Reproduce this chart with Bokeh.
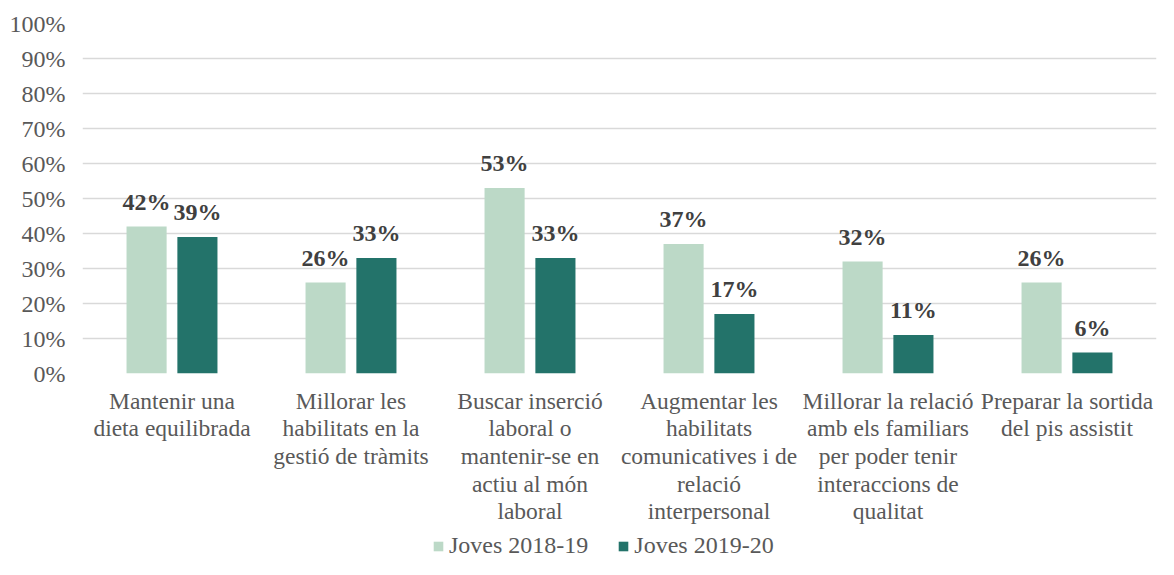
from bokeh.plotting import figure
from bokeh.layouts import column
from bokeh.models import (ColumnDataSource, LabelSet, Range1d, FixedTicker,
                          PrintfTickFormatter, Legend, LegendItem)
from bokeh.embed import file_html
from bokeh.resources import INLINE

# ---- data ----
categories = [
    "Mantenir una\ndieta equilibrada",
    "Millorar les\nhabilitats en la\ngestió de tràmits",
    "Buscar inserció\nlaboral o\nmantenir-se en\nactiu al món\nlaboral",
    "Augmentar les\nhabilitats\ncomunicatives i de\nrelació\ninterpersonal",
    "Millorar la relació\namb els familiars\nper poder tenir\ninteraccions de\nqualitat",
    "Preparar la sortida\ndel pis assistit",
]
series_names = ["Joves 2018-19", "Joves 2019-20"]
joves_2018_19 = [42, 26, 53, 37, 32, 26]
joves_2019_20 = [39, 33, 33, 17, 11, 6]
y_ticks = [0, 10, 20, 30, 40, 50, 60, 70, 80, 90, 100]

# ---- style ----
FONT = "Liberation Serif"
FS = "24px"
FS_CAT = "23.5px"
LIGHT = "#bcd9c7"
DARK = "#23736a"
TICK_COLOR = "#595959"
LABEL_COLOR = "#404040"
GRID = "#d9d9d9"
W = 1158
H_MAIN, H_LEG = 530, 29
BAR_W = 0.224
OFF = 0.142
LEFT = 82

p = figure(width=W, height=H_MAIN, output_backend="svg", toolbar_location=None,
           x_range=Range1d(0, len(categories)), y_range=Range1d(0, 100),
           min_border_left=LEFT, min_border_right=2, min_border_top=23,
           min_border_bottom=157)
p.outline_line_color = None
p.background_fill_color = "white"
p.border_fill_color = "white"
p.xgrid.visible = False
p.ygrid.grid_line_color = GRID
p.ygrid.grid_line_width = 1.5
p.ygrid.ticker = FixedTicker(ticks=y_ticks)
p.yaxis.ticker = FixedTicker(ticks=y_ticks)
p.yaxis.formatter = PrintfTickFormatter(format="%d%%")
p.yaxis.axis_line_color = None
p.yaxis.major_tick_line_color = None
p.yaxis.minor_tick_line_color = None
p.yaxis.major_tick_out = 0
p.yaxis.major_tick_in = 0
p.yaxis.major_label_text_font = FONT
p.yaxis.major_label_text_font_size = FS
p.yaxis.major_label_text_color = TICK_COLOR
p.yaxis.major_label_standoff = 17

centers = [i + 0.5 for i in range(len(categories))]
p.xaxis.ticker = FixedTicker(ticks=centers)
p.xaxis.major_label_overrides = {c: t for c, t in zip(centers, categories)}
p.xaxis.axis_line_color = None
p.xaxis.major_tick_line_color = None
p.xaxis.minor_tick_line_color = None
p.xaxis.major_tick_out = 0
p.xaxis.major_tick_in = 0
p.xaxis.major_label_standoff = 14
p.xaxis.major_label_text_font = FONT
p.xaxis.major_label_text_font_size = FS_CAT
p.xaxis.major_label_text_line_height = 1.065
p.xaxis.major_label_text_color = TICK_COLOR
p.xaxis.major_label_text_align = "center"

for vals, off, col in ((joves_2018_19, -OFF, LIGHT), (joves_2019_20, OFF, DARK)):
    src = ColumnDataSource(dict(
        x=[c + off for c in centers], top=vals,
        lbl=[f"{v}%" for v in vals]))
    p.vbar(x="x", top="top", width=BAR_W, source=src,
           fill_color=col, line_color=None)
    p.add_layout(LabelSet(x="x", y="top", text="lbl", source=src,
                          text_align="center", text_baseline="alphabetic",
                          y_offset=17, text_font=FONT, text_font_size=FS,
                          text_font_style="bold", text_color=LABEL_COLOR))

# ---- legend strip (frame aligned with the main plot's frame) ----
lg = figure(width=W, height=H_LEG, output_backend="svg", toolbar_location=None,
            x_axis_location=None, y_axis_location=None,
            x_range=Range1d(0, 1), y_range=Range1d(0, 1),
            min_border_left=0, min_border_right=0, min_border_top=0,
            min_border_bottom=0)
lg.outline_line_color = None
lg.grid.visible = False
leg_items = []
for name, col in zip(series_names, (LIGHT, DARK)):
    # zero-height swatch source so the legend has a glyph to draw
    r = lg.vbar(x=[0], top=[0], width=0, fill_color=col, line_color=None)
    leg_items.append(LegendItem(label=name, renderers=[r]))
legend = Legend(items=leg_items, orientation="horizontal",
                location=(432 - LEFT, 0),
                glyph_width=12, glyph_height=12, label_standoff=5,
                spacing=29, padding=0, margin=0, label_height=24,
                label_text_font=FONT, label_text_font_size=FS,
                label_text_color=TICK_COLOR, border_line_color=None,
                background_fill_alpha=0)
lg.add_layout(legend, "center")

layout = column(p, lg, spacing=0)
open("out.html", "w").write(file_html(layout, INLINE))
